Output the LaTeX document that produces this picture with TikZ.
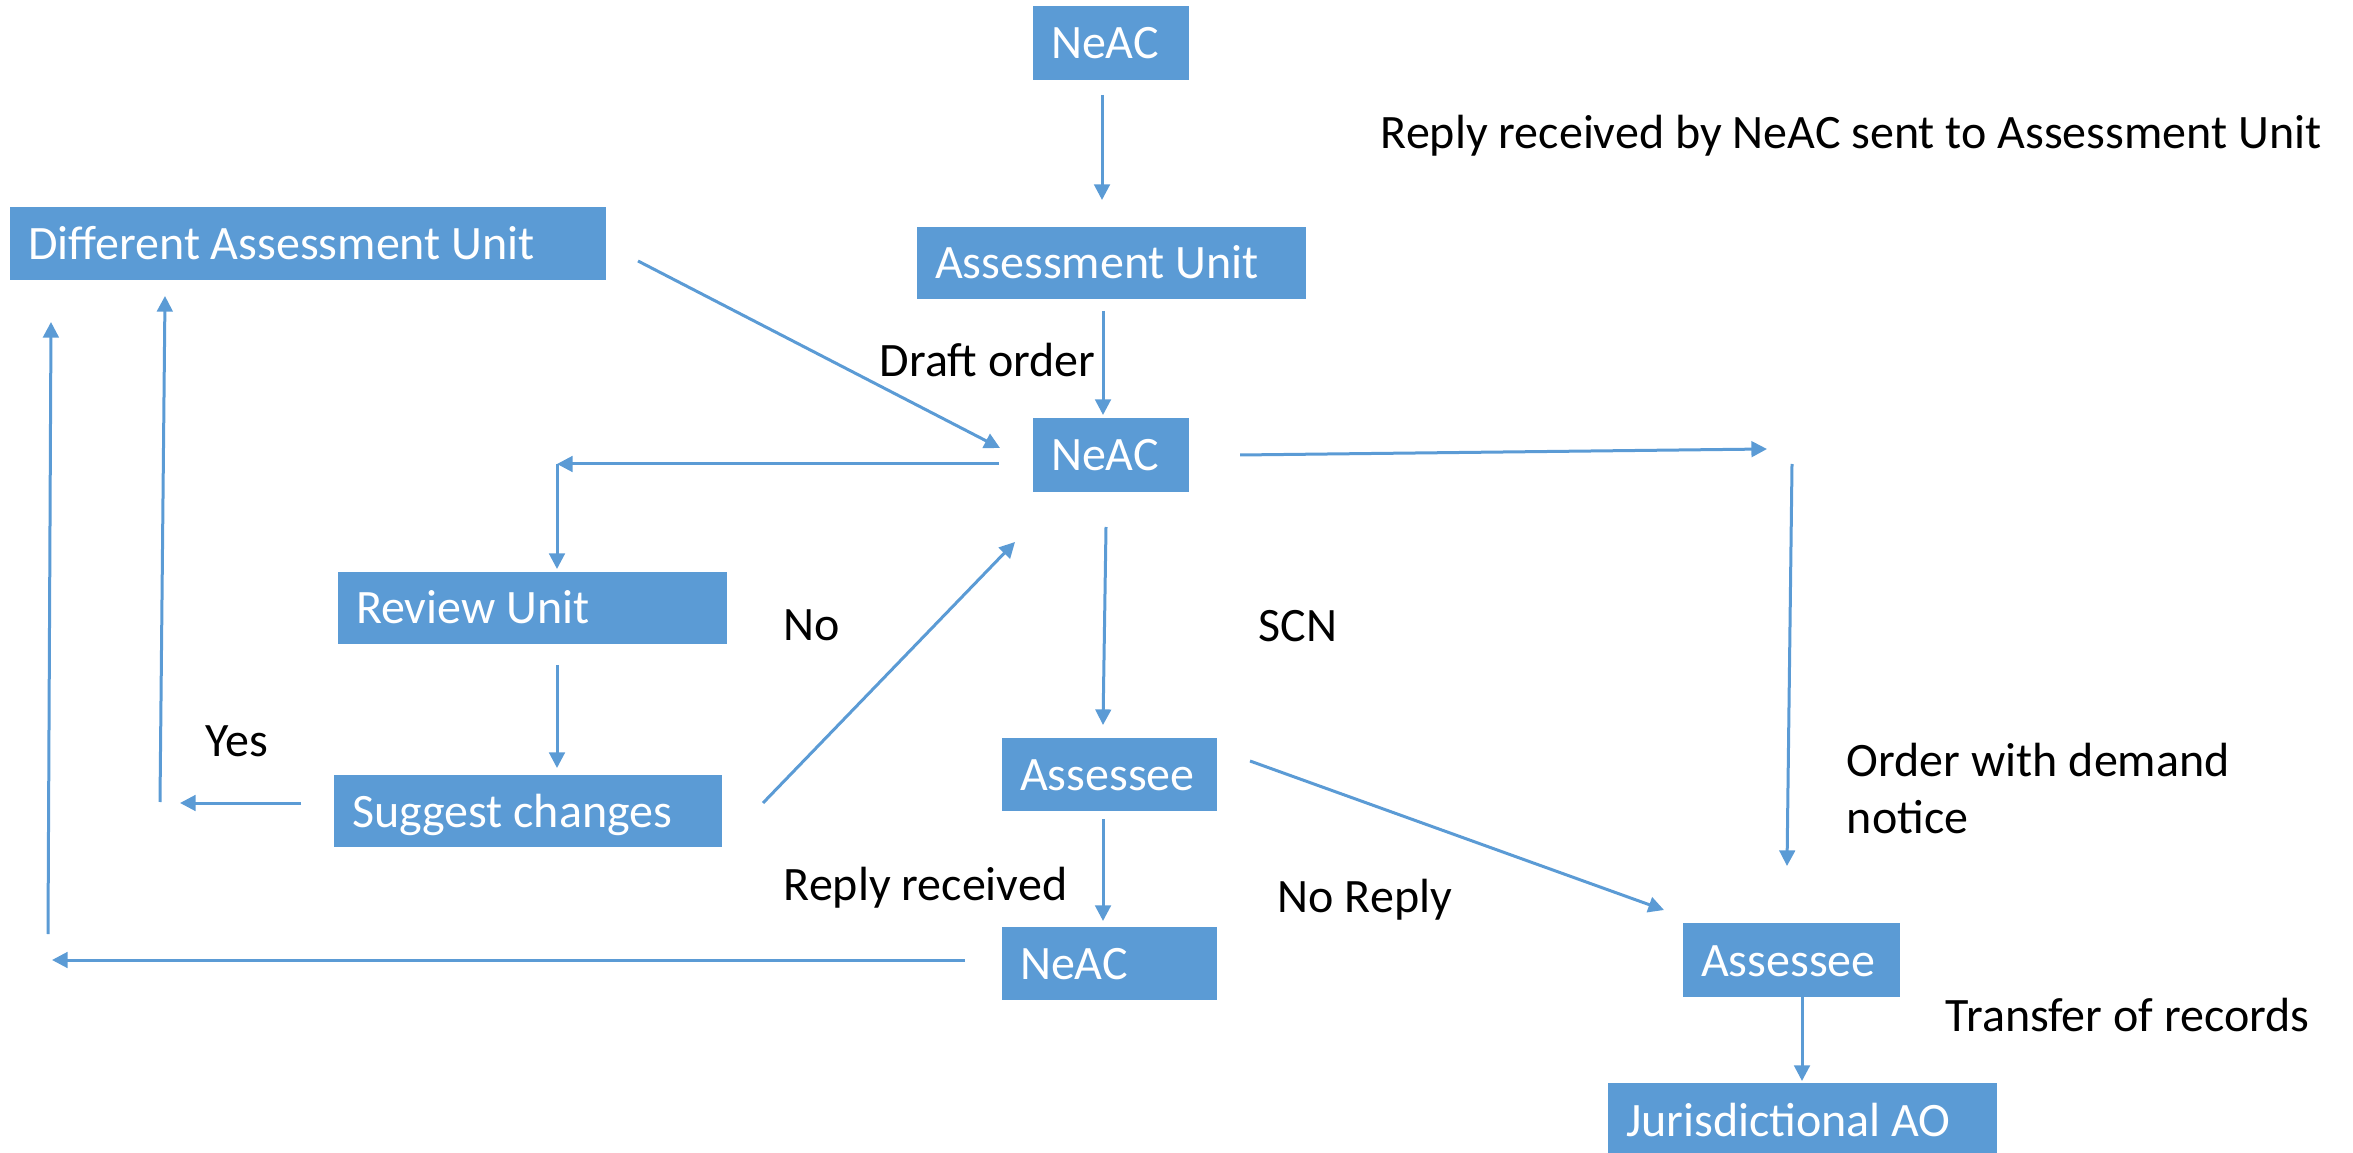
\documentclass[tikz,border=0pt]{standalone}
\usepackage{fontspec}
\setmainfont{Carlito}
\usetikzlibrary{arrows.meta}
\definecolor{officeblue}{HTML}{5B9BD5}
\begin{document}
\begin{tikzpicture}[x=0.25pt,y=-0.25pt,
  every node/.style={font=\fontsize{12pt}{14.25pt}\selectfont},
  flowbox/.style={rectangle, fill=officeblue, text=white, align=left,
    inner xsep=4.5pt, inner ysep=0pt, text height=9pt, text depth=1pt,
    execute at begin node={\spaceskip=0pt\xspaceskip=0pt\relax}},
  tag/.style={anchor=base west, inner sep=0pt, text=black, align=left},
  link/.style={draw=officeblue, line width=0.75pt,
    -{Triangle[length=3.9pt,width=3.9pt]}}]
\useasboundingbox (0,0) rectangle (2353,1153);

% boxes
\node[flowbox, minimum width=39pt, minimum height=18.5pt, text width=30pt] (neacA) at (1111,43) {NeAC};
\node[flowbox, minimum width=97.25pt, minimum height=18pt, text width=88.25pt] (unit) at (1111.5,263) {Assessment Unit};
\node[flowbox, minimum width=149pt, minimum height=18.25pt, text width=140pt] (diffunit) at (308,243.5) {Different Assessment Unit};
\node[flowbox, minimum width=39pt, minimum height=18.5pt, text width=30pt] (neacB) at (1111,455) {NeAC};
\node[flowbox, minimum width=97.25pt, minimum height=18pt, text width=88.25pt] (review) at (532.5,608) {Review Unit};
\node[flowbox, minimum width=97pt, minimum height=18pt, text width=88pt] (suggest) at (528,811) {Suggest changes};
\node[flowbox, minimum width=53.75pt, minimum height=18.25pt, text width=44.75pt] (assesseeA) at (1109.5,774.5) {Assessee};
\node[flowbox, minimum width=53.75pt, minimum height=18.25pt, text width=44.75pt] (neacC) at (1109.5,963.5) {NeAC};
\node[flowbox, minimum width=54.25pt, minimum height=18.5pt, text width=45.25pt] (assesseeB) at (1791.5,960) {Assessee};
\node[flowbox, minimum width=97.25pt, minimum height=18.5pt, text width=88.25pt] (jao) at (1802.5,1120) {Jurisdictional AO};

% labels (the two-line label is anchored on its last line)
\node[tag] (lblreply) at (1380,149) {Reply received by NeAC sent to Assessment Unit};
\node[tag] (lbldraft) at (879,377) {Draft order};
\node[tag] (lblno) at (783,641) {No};
\node[tag] (lblscn) at (1258,642) {SCN};
\node[tag] (lblyes) at (205,757) {Yes};
\node[tag] (lblorder) at (1846,833) {Order with demand\\notice};
\node[tag] (lblrecv) at (783,900) {Reply received};
\node[tag] (lblnoreply) at (1277,912) {No Reply};
\node[tag] (lbltransfer) at (1945,1031) {Transfer of records};

% connector end points
\coordinate (a0) at (1102,95);   \coordinate (a1) at (1102,200);
\coordinate (b0) at (1103,311);  \coordinate (b1) at (1103,415);
\coordinate (c0) at (638,261);   \coordinate (c1) at (1000,448);
\coordinate (d0) at (999,464);   \coordinate (corner) at (557,464);
\coordinate (d1) at (557,569);
\coordinate (e0) at (557,665);   \coordinate (e1) at (557,768);
\coordinate (f0) at (301,803);   \coordinate (f1) at (180,803);
\coordinate (g0) at (160,802);   \coordinate (g1) at (165,296);
\coordinate (h0) at (48,934);    \coordinate (h1) at (51,322);
\coordinate (i0) at (965,960);   \coordinate (i1) at (52,960);
\coordinate (j0) at (763,803);   \coordinate (j1) at (1015,542);
\coordinate (k0) at (1106,527);  \coordinate (k1) at (1103,725);
\coordinate (l0) at (1240,455);  \coordinate (l1) at (1767,449);
\coordinate (m0) at (1792,464);  \coordinate (m1) at (1787,866);
\coordinate (n0) at (1250,761);  \coordinate (n1) at (1664,910);
\coordinate (o0) at (1103,819);  \coordinate (o1) at (1103,921);
\coordinate (p0) at (1802,997);  \coordinate (p1) at (1802,1081);

% connectors
\draw[link] (a0) -- (a1);
\draw[link] (b0) -- (b1);
\draw[link] (c0) -- (c1);
\draw[link] (d0) -- (corner);
\draw[link] (corner) -- (d1);
\draw[link] (e0) -- (e1);
\draw[link] (f0) -- (f1);
\draw[link] (g0) -- (g1);
\draw[link] (h0) -- (h1);
\draw[link] (i0) -- (i1);
\draw[link] (j0) -- (j1);
\draw[link] (k0) -- (k1);
\draw[link] (l0) -- (l1);
\draw[link] (m0) -- (m1);
\draw[link] (n0) -- (n1);
\draw[link] (o0) -- (o1);
\draw[link] (p0) -- (p1);
\end{tikzpicture}
\end{document}
